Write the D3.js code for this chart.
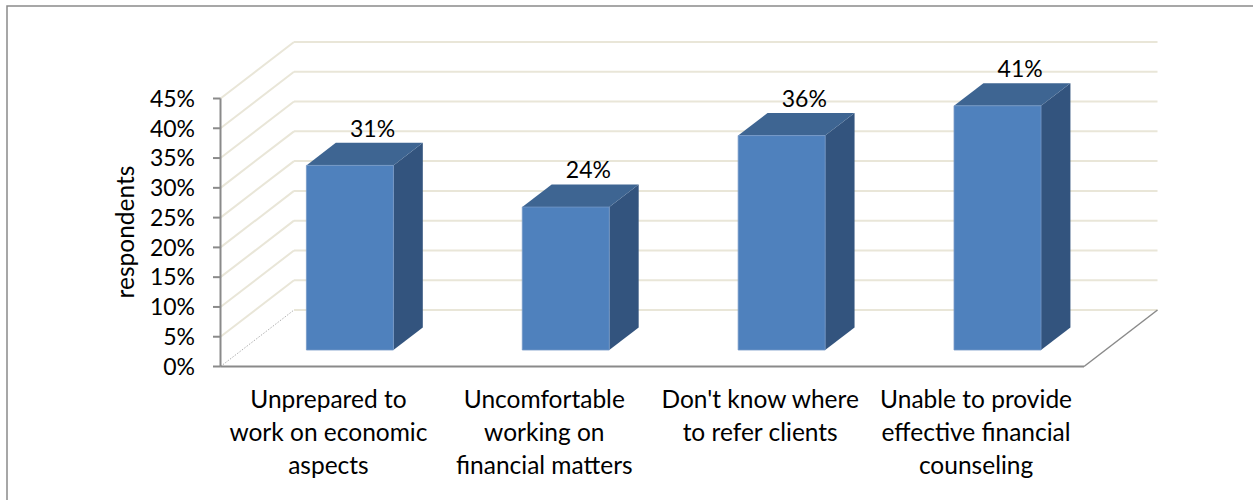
<!DOCTYPE html>
<html>
<head>
<meta charset="utf-8">
<script src="https://cdn.jsdelivr.net/npm/d3@7/dist/d3.min.js"></script>
<style>
  html, body { margin: 0; padding: 0; background: #fff; }
  svg { display: block; }
  text { font-family: Lato, "Open Sans", sans-serif; fill: #000; }
</style>
</head>
<body>
<svg id="chart" width="1253" height="500"></svg>
<script>
// Category labels (one entry per wrapped line) and the share of respondents
const categories = [
  ["Unprepared to", "work on economic", "aspects"],
  ["Uncomfortable", "working on", "financial matters"],
  ["Don't know where", "to refer clients"],
  ["Unable to provide", "effective financial", "counseling"]
];
const values = [0.31, 0.24, 0.36, 0.41];
const dataLabels = ["31%", "24%", "36%", "41%"];
const yTicks = [0, 0.05, 0.10, 0.15, 0.20, 0.25, 0.30, 0.35, 0.40, 0.45];
const yAxisTitle = "respondents";

const svg = d3.select("#chart");
const keys = categories.map((c, i) => i);

// Front plane scales
const x = d3.scaleBand().domain(keys).range([220.5, 1084]).paddingInner(0).paddingOuter(0);
const y = d3.scaleLinear().domain([0, 0.45]).range([366.5, 98.5]);

// Oblique depth offset of the back wall (z = 1)
const kx = 73.5, ky = 56.5;
const proj = (px, v, z) => [px + z * kx, y(v) - z * ky];

// Outer frame
svg.append("rect")
  .attr("x", 7).attr("y", 6).attr("width", 1260).attr("height", 510)
  .attr("fill", "none").attr("stroke", "#8a8a8a").attr("stroke-width", 1.5);

const gridColor = "#e9e6d8";
const g = svg.append("g");

// Back wall gridlines
const xL = x.range()[0], xR = x.range()[1];
yTicks.forEach(t => {
  const a = proj(xL, t, 1), b = proj(xR, t, 1);
  g.append("line").attr("x1", a[0]).attr("y1", a[1]).attr("x2", b[0]).attr("y2", b[1])
    .attr("stroke", gridColor).attr("stroke-width", 2);
});

// Side wall gridlines (above the floor)
yTicks.filter(t => t > 0).forEach(t => {
  const a = proj(xL, t, 0), b = proj(xL, t, 1);
  g.append("line").attr("x1", a[0]).attr("y1", a[1]).attr("x2", b[0]).attr("y2", b[1])
    .attr("stroke", gridColor).attr("stroke-width", 2);
});

// Floor: dotted left edge, solid right edge
{
  const a = proj(xL, 0, 0), b = proj(xL, 0, 1);
  g.append("line").attr("x1", a[0]).attr("y1", a[1]).attr("x2", b[0]).attr("y2", b[1])
    .attr("stroke", "#b0b0b0").attr("stroke-width", 1).attr("stroke-dasharray", "1.5,1.5");
  const c = proj(xR, 0, 0), d = proj(xR, 0, 1);
  g.append("line").attr("x1", c[0]).attr("y1", c[1]).attr("x2", d[0]).attr("y2", d[1])
    .attr("stroke", "#8a8a8a").attr("stroke-width", 1.5);
}

// Bars as boxes: front, top and right faces
const barW = x.bandwidth() * 0.403;
const z0 = 0.292, z1 = 0.692;
const poly = pts => pts.map(p => p.join(",")).join(" ");

const bars = svg.append("g");
keys.forEach(i => {
  const v = values[i];
  const x0 = x(i) + (x.bandwidth() - barW) / 2, x1 = x0 + barW;
  bars.append("polygon")
    .attr("points", poly([proj(x1, 0, z0), proj(x1, v, z0), proj(x1, v, z1), proj(x1, 0, z1)]))
    .attr("fill", "#33547e");
  bars.append("polygon")
    .attr("points", poly([proj(x0, v, z0), proj(x1, v, z0), proj(x1, v, z1), proj(x0, v, z1)]))
    .attr("fill", "#3e6592");
  bars.append("polygon")
    .attr("points", poly([proj(x0, 0, z0), proj(x1, 0, z0), proj(x1, v, z0), proj(x0, v, z0)]))
    .attr("fill", "#4f81bd").attr("stroke", "#7598c6").attr("stroke-width", 0.8);

  // value label above the bar top
  const lx = x(i) + x.bandwidth() / 2 + 0.6 * kx;
  const ly = proj(0, v, z1)[1] - 6;
  svg.append("text").attr("x", lx).attr("y", ly)
    .attr("text-anchor", "middle").attr("font-size", 23)
    .text(dataLabels[i]);
});

// Front value axis
const axis = svg.append("g");
axis.append("line").attr("x1", xL).attr("y1", y(0.45)).attr("x2", xL).attr("y2", y(0))
  .attr("stroke", "#8a8a8a").attr("stroke-width", 2);
axis.append("line").attr("x1", xL).attr("y1", y(0)).attr("x2", xR).attr("y2", y(0))
  .attr("stroke", "#8a8a8a").attr("stroke-width", 2);
yTicks.forEach(t => {
  axis.append("line").attr("x1", 213).attr("y1", y(t)).attr("x2", xL).attr("y2", y(t))
    .attr("stroke", "#8a8a8a").attr("stroke-width", 2);
  axis.append("text").attr("x", 195).attr("y", y(t)).attr("dy", "0.36em")
    .attr("text-anchor", "end").attr("font-size", 23)
    .text(d3.format(".0%")(t));
});

// Axis title
svg.append("text")
  .attr("transform", "translate(134,232) rotate(-90)")
  .attr("text-anchor", "middle").attr("font-size", 24.5)
  .text(yAxisTitle);

// Category labels
keys.forEach(i => {
  const cx = x(i) + x.bandwidth() / 2;
  const t = svg.append("text").attr("text-anchor", "middle").attr("font-size", 24.5);
  categories[i].forEach((line, k) => {
    t.append("tspan").attr("x", cx).attr("y", 408 + k * 33).text(line);
  });
});
</script>
</body>
</html>
